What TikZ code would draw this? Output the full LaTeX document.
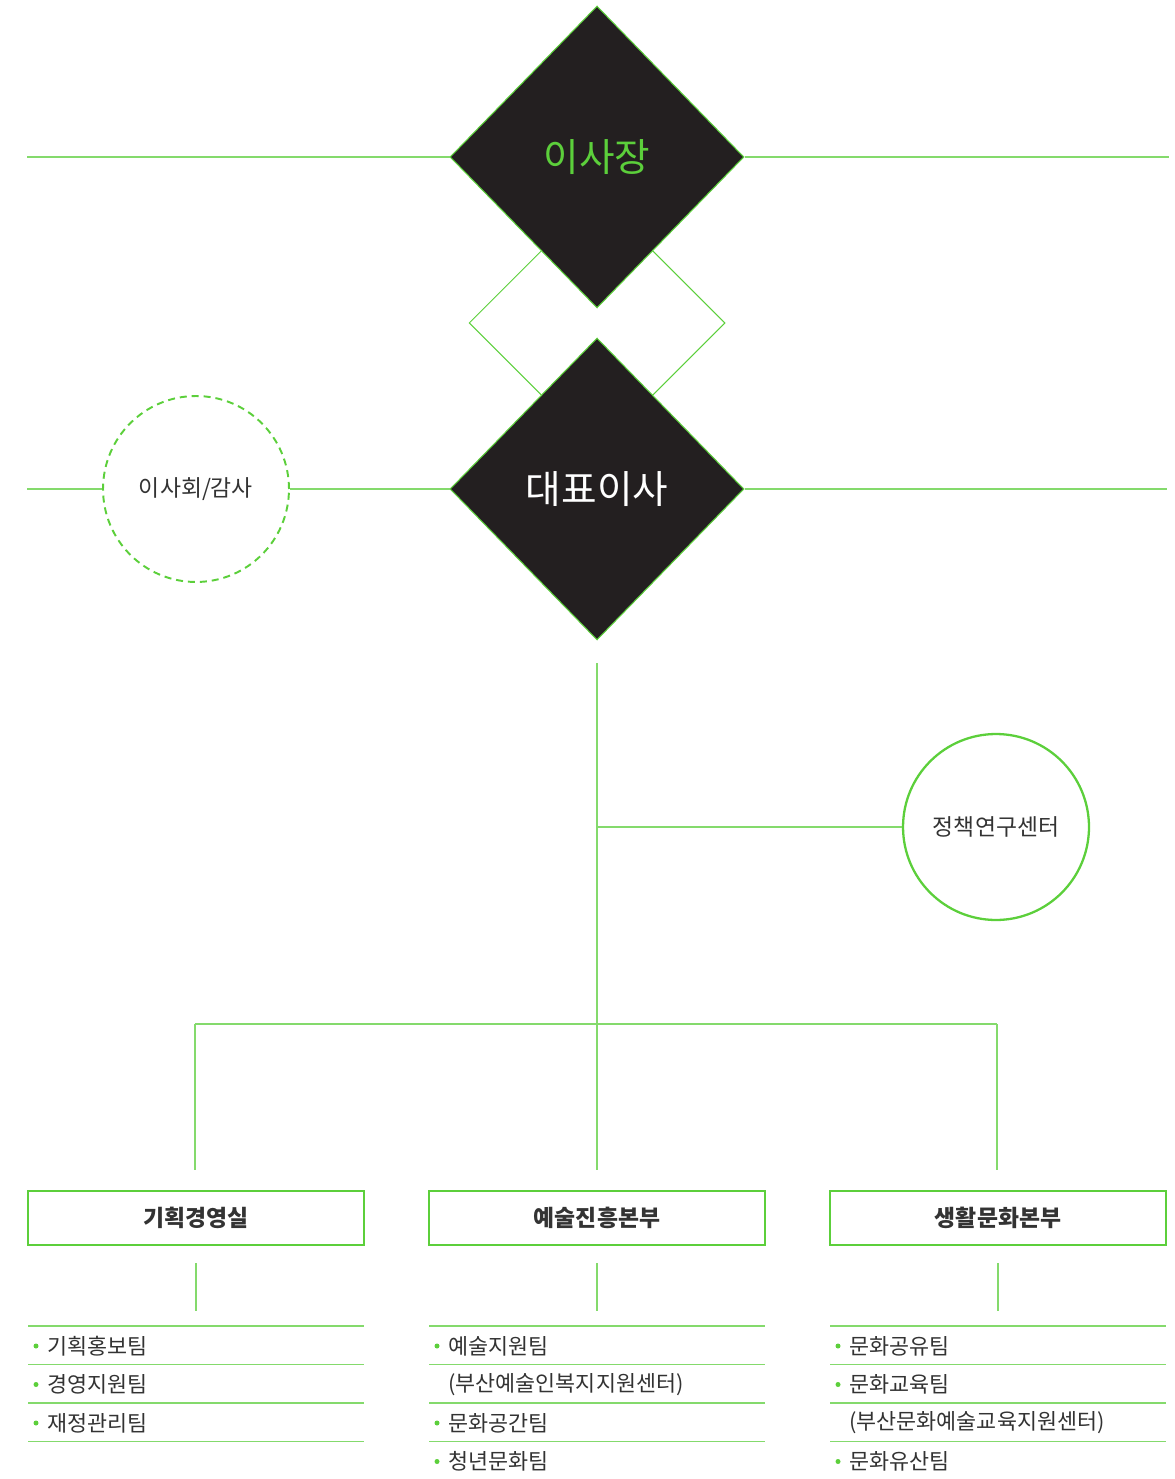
\documentclass[tikz,border=0pt]{standalone}
\usepackage{fontspec}
\setmainfont{Noto Sans CJK KR}
\usetikzlibrary{shapes.geometric, positioning}
\definecolor{OrgGreen}{HTML}{5CCF3B}
\definecolor{OrgLine}{HTML}{84DA6C}
\definecolor{OrgDark}{HTML}{231F20}
\definecolor{OrgText}{HTML}{333333}
\tikzset{
    % diamonds at the top
    headbox/.style={
        diamond,
        fill=OrgDark,
        draw=OrgGreen,
        line width=0.6pt,
        inner sep=0pt,
        minimum width=5.88cm,
        minimum height=6.04cm,
        font=\fontsize{22}{26}\selectfont
    },
    linkbox/.style={
        diamond,
        draw=OrgGreen,
        line width=0.6pt,
        inner sep=0pt,
        minimum width=5.12cm,
        minimum height=5.12cm
    },
    % side units
    sidecircle/.style={
        circle,
        draw=OrgGreen,
        inner sep=0pt,
        minimum size=3.72cm,
        text=OrgText,
        font=\fontsize{13}{15}\selectfont
    },
    % departments
    deptbox/.style={
        rectangle,
        draw=OrgGreen,
        line width=1.5pt,
        minimum width=6.72cm,
        minimum height=1.08cm,
        text=OrgText,
        font=\fontsize{13}{15}\selectfont\bfseries
    },
    teamitem/.style={
        anchor=west,
        inner sep=0pt,
        text=OrgText,
        font=\fontsize{12.4}{14}\selectfont
    },
    bulletdot/.style={
        circle,
        fill=OrgGreen,
        inner sep=0pt,
        minimum size=0.1cm
    },
    % lines
    orgline/.style={
        draw=OrgLine,
        line width=0.6pt
    }
}

\begin{document}
\begin{tikzpicture}[x=0.02cm, y=-0.02cm]
    \useasboundingbox (0,0) rectangle (1175,1479);

    % Top
    \node[linkbox] (link) at (597,323) {};
    \node[headbox, text=OrgGreen] (chair) at (597,157) {이사장};
    \node[headbox, text=white] (ceo) at (597,489) {대표이사};

    \coordinate (chairL) at (27,157);
    \coordinate (chairR) at (1169,157);
    \coordinate (ceoL) at (27,489);
    \coordinate (ceoR) at (1167,489);
    \draw[orgline] (chair.west) -- (chairL);
    \draw[orgline] (chair.east) -- (chairR);

    % Board
    \node[sidecircle, dashed, dash pattern=on 4pt off 2.8pt, line width=1.1pt] (board) at (196,489) {이사회/감사};
    \draw[orgline] (ceo.west) -- (board.east);
    \draw[orgline] (board.west) -- (ceoL);
    \draw[orgline] (ceo.east) -- (ceoR);

    % Trunk
    \coordinate (trunk) at (597,663);
    \coordinate (branch) at (597,827);
    \coordinate (fork) at (597,1024);
    \coordinate (forkL) at (195,1024);
    \coordinate (forkR) at (997,1024);
    \coordinate (artsTop) at (597,1170);
    \coordinate (planTop) at (195,1170);
    \coordinate (lifeTop) at (997,1170);

    \node[sidecircle, line width=1.3pt] (policy) at (996,827) {정책연구센터};
    \draw[orgline] (trunk) -- (artsTop);
    \draw[orgline] (branch) -- (policy.west);
    \draw[orgline] (forkL) -- (forkR);
    \draw[orgline] (forkL) -- (planTop);
    \draw[orgline] (forkR) -- (lifeTop);

    % Departments
    \node[deptbox] (plan) at (196,1218) {기획경영실};
    \node[deptbox] (arts) at (597,1218) {예술진흥본부};
    \node[deptbox] (life) at (998,1218) {생활문화본부};

    \foreach \d in {plan,arts,life} {
        \draw[orgline] ([yshift=-0.34cm]\d.south) -- ([yshift=-1.3cm]\d.south);
    }

    % Teams
    \foreach \d/\x/\items in {plan/28/{1/기획홍보팀,1/경영지원팀,1/재정관리팀},
                              arts/429/{1/예술지원팀,0/(부산예술인복지지원센터),1/문화공간팀,1/청년문화팀},
                              life/830/{1/문화공유팀,1/문화교육팀,0/(부산문화예술교육지원센터),1/문화유산팀}} {
        \foreach \k in {0,...,3} {
            \draw[orgline] (\x,{1326+38.5*\k}) -- ({\x+336},{1326+38.5*\k});
        }
        \foreach \b/\txt [count=\i] in \items {
            \node[teamitem] (\d-item\i) at ({\x+19},{1346+38.5*(\i-1)}) {\txt};
            \ifnum\b=1
                \node[bulletdot] at ({\x+8},{1346+38.5*(\i-1)}) {};
            \fi
        }
    }
\end{tikzpicture}
\end{document}
